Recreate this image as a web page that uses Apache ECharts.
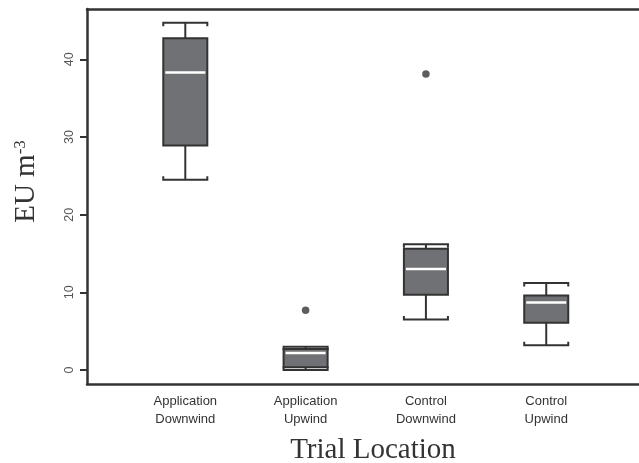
<!DOCTYPE html>
<html>
<head>
<meta charset="utf-8">
<script src="https://cdn.jsdelivr.net/npm/echarts@6/dist/echarts.min.js"></script>
<style>
  html, body { margin: 0; padding: 0; background: #fff; }
  #chart { width: 639px; height: 463px; }
</style>
</head>
<body>
<div id="chart"></div>
<script>
// Endotoxin concentration by trial location (box-and-whisker summary)
const categories = ['Application\nDownwind', 'Application\nUpwind', 'Control\nDownwind', 'Control\nUpwind'];
const whiskerLow  = [24.5, 0.0, 6.5, 3.2];
const q1          = [28.9, 0.35, 9.7, 6.1];
const median      = [38.3, 2.2, 13.0, 8.7];
const q3          = [42.7, 2.7, 15.6, 9.6];
const whiskerHigh = [44.7, 3.0, 16.2, 11.2];
// outliers: [category index, value]
const outliers = [[1, 7.7], [2, 38.1]];
const yTicks = [0, 10, 20, 30, 40];

const INK = '#333333';
const BOX_FILL = '#707174';
const BOX_WIDTH = 0.366; // in x-axis units
const CAP_TIP = 3.5;      // small end ticks on whisker caps, px

const boxRows = categories.map((c, i) => [i + 1, whiskerLow[i], q1[i], median[i], q3[i], whiskerHigh[i]]);
const outlierRows = outliers.map(o => [o[0] + 1, o[1]]);

function renderBox(params, api) {
  const x = api.value(0);
  const pLo = api.coord([x, api.value(1)]);
  const pQ1 = api.coord([x, api.value(2)]);
  const pMd = api.coord([x, api.value(3)]);
  const pQ3 = api.coord([x, api.value(4)]);
  const pHi = api.coord([x, api.value(5)]);
  const w = api.size([BOX_WIDTH, 0])[0];
  const cx = pLo[0];
  const l = cx - w / 2, r = cx + w / 2;
  const ink = { stroke: INK, lineWidth: 2, fill: null };
  return {
    type: 'group',
    children: [
      { type: 'line', shape: { x1: cx, y1: pQ3[1], x2: cx, y2: pHi[1] }, style: ink },
      { type: 'line', shape: { x1: cx, y1: pQ1[1], x2: cx, y2: pLo[1] }, style: ink },
      { type: 'polyline', shape: { points: [[l, pHi[1] + CAP_TIP], [l, pHi[1]], [r, pHi[1]], [r, pHi[1] + CAP_TIP]] }, style: ink },
      { type: 'polyline', shape: { points: [[l, pLo[1] - CAP_TIP], [l, pLo[1]], [r, pLo[1]], [r, pLo[1] - CAP_TIP]] }, style: ink },
      { type: 'rect', shape: { x: l, y: pQ3[1], width: w, height: pQ1[1] - pQ3[1] },
        style: { fill: BOX_FILL, stroke: INK, lineWidth: 2 } },
      { type: 'line', shape: { x1: l + 2, y1: pMd[1], x2: r - 2, y2: pMd[1] },
        style: { stroke: '#ffffff', lineWidth: 2.5 } }
    ]
  };
}

const chart = echarts.init(document.getElementById('chart'), null, { renderer: 'canvas' });
chart.setOption({
  animation: false,
  backgroundColor: '#ffffff',
  grid: { left: 87, right: 0, top: 9, bottom: 79, containLabel: false, outerBoundsMode: 'none' },
  xAxis: [
    {
      type: 'value',
      min: 0.183,
      max: 4.771,
      position: 'bottom',
      axisLine: { show: true, onZero: false, lineStyle: { color: INK, width: 2.5 } },
      axisTick: { show: false },
      splitLine: { show: false },
      axisLabel: {
        customValues: [1, 2, 3, 4],
        formatter: v => categories[Math.round(v) - 1] || '',
        color: '#333',
        fontFamily: 'Liberation Sans, Arial, sans-serif',
        fontSize: 13,
        lineHeight: 18,
        margin: 8
      },
      name: 'Trial Location',
      nameLocation: 'middle',
      nameGap: 52,
      nameTextStyle: {
        fontFamily: 'Liberation Serif, Times New Roman, serif',
        fontSize: 29,
        color: '#333',
        padding: [0, 0, 0, 20]
      }
    },
    {
      type: 'value',
      min: 0.183,
      max: 4.771,
      position: 'top',
      axisLine: { show: true, onZero: false, lineStyle: { color: INK, width: 2.5 } },
      axisTick: { show: false },
      axisLabel: { show: false },
      splitLine: { show: false }
    }
  ],
  yAxis: {
    type: 'value',
    min: -1.8,
    max: 46.48,
    axisLine: { show: true, onZero: false, lineStyle: { color: INK, width: 2.5 } },
    axisTick: { show: true, customValues: yTicks, length: 7, lineStyle: { color: INK, width: 2 } },
    splitLine: { show: false },
    axisLabel: {
      customValues: yTicks,
      rotate: 90,
      margin: 11,
      color: '#555',
      fontFamily: 'Liberation Sans, Arial, sans-serif',
      fontSize: 12.5
    },
    name: 'EU m{sup|-3}',
    nameLocation: 'middle',
    nameRotate: 90,
    nameGap: 46,
    nameTextStyle: {
      fontFamily: 'Liberation Serif, Times New Roman, serif',
      fontSize: 29,
      color: '#333',
      padding: [0, 0, 0, 30],
      rich: {
        sup: {
          fontFamily: 'Liberation Serif, Times New Roman, serif',
          fontSize: 17,
          color: '#333',
          verticalAlign: 'top',
          lineHeight: 14
        }
      }
    }
  },
  series: [
    {
      type: 'custom',
      name: 'EU',
      xAxisIndex: 0,
      renderItem: renderBox,
      encode: { x: 0, y: [1, 2, 3, 4, 5] },
      data: boxRows,
      z: 3
    },
    {
      type: 'scatter',
      name: 'outliers',
      xAxisIndex: 0,
      symbol: 'circle',
      symbolSize: 7.5,
      itemStyle: { color: INK },
      data: outlierRows,
      z: 4
    }
  ]
});
</script>
</body>
</html>
